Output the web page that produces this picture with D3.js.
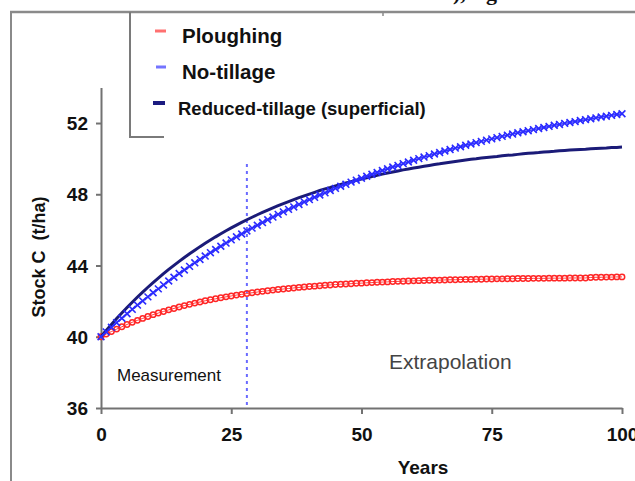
<!DOCTYPE html>
<html>
<head>
<meta charset="utf-8">
<script src="https://cdn.jsdelivr.net/npm/d3@7"></script>
<style>
  html, body { margin: 0; padding: 0; background: #fff; }
  svg { display: block; }
</style>
</head>
<body>
<svg id="chart" width="635" height="481"></svg>
<script>
// Simulated soil carbon stock (t/ha) for three tillage systems, years 0–100
const years = d3.range(0, 101);

const ploughing = [
  40.00, 40.15, 40.29, 40.43, 40.56, 40.69, 40.81, 40.92, 41.03, 41.14,
  41.24, 41.33, 41.42, 41.51, 41.59, 41.67, 41.75, 41.82, 41.89, 41.95,
  42.02, 42.08, 42.13, 42.19, 42.24, 42.29, 42.34, 42.38, 42.43, 42.47,
  42.51, 42.55, 42.58, 42.62, 42.65, 42.68, 42.71, 42.74, 42.77, 42.79,
  42.82, 42.84, 42.86, 42.89, 42.91, 42.93, 42.95, 42.96, 42.98, 43.00,
  43.01, 43.03, 43.04, 43.06, 43.07, 43.08, 43.10, 43.11, 43.12, 43.13,
  43.14, 43.15, 43.16, 43.17, 43.17, 43.18, 43.19, 43.20, 43.20, 43.21,
  43.22, 43.22, 43.23, 43.23, 43.24, 43.24, 43.25, 43.25, 43.26, 43.26,
  43.27, 43.27, 43.27, 43.28, 43.28, 43.28, 43.29, 43.29, 43.29, 43.29,
  43.30, 43.30, 43.30, 43.30, 43.33, 43.34, 43.34, 43.35, 43.35, 43.36,
  43.36
];

const noTillage = [
  40.00, 40.27, 40.53, 40.79, 41.04, 41.29, 41.54, 41.78, 42.01, 42.24,
  42.47, 42.69, 42.91, 43.13, 43.34, 43.55, 43.75, 43.95, 44.15, 44.34,
  44.53, 44.72, 44.90, 45.08, 45.26, 45.44, 45.61, 45.77, 45.94, 46.10,
  46.26, 46.41, 46.57, 46.72, 46.87, 47.01, 47.15, 47.29, 47.43, 47.57,
  47.70, 47.83, 47.96, 48.08, 48.21, 48.33, 48.45, 48.56, 48.68, 48.79,
  48.90, 49.01, 49.12, 49.22, 49.33, 49.43, 49.53, 49.62, 49.72, 49.81,
  49.91, 50.00, 50.09, 50.17, 50.26, 50.34, 50.43, 50.51, 50.59, 50.67,
  50.75, 50.82, 50.90, 50.97, 51.04, 51.11, 51.18, 51.25, 51.32, 51.38,
  51.45, 51.51, 51.57, 51.63, 51.69, 51.75, 51.81, 51.87, 51.92, 51.98,
  52.03, 52.08, 52.14, 52.19, 52.24, 52.29, 52.34, 52.38, 52.43, 52.48,
  52.52
];

const reducedTillage = [
  40.00, 40.35, 40.69, 41.02, 41.33, 41.64, 41.94, 42.23, 42.51, 42.78,
  43.04, 43.29, 43.54, 43.78, 44.01, 44.23, 44.45, 44.66, 44.86, 45.06,
  45.25, 45.43, 45.61, 45.78, 45.95, 46.11, 46.27, 46.42, 46.57, 46.71,
  46.85, 46.98, 47.11, 47.24, 47.36, 47.48, 47.59, 47.70, 47.81, 47.91,
  48.01, 48.11, 48.21, 48.30, 48.38, 48.47, 48.55, 48.63, 48.71, 48.79,
  48.86, 48.93, 49.00, 49.06, 49.13, 49.19, 49.25, 49.31, 49.37, 49.42,
  49.47, 49.52, 49.57, 49.62, 49.67, 49.71, 49.76, 49.80, 49.84, 49.88,
  49.92, 49.96, 49.99, 50.03, 50.06, 50.09, 50.12, 50.16, 50.19, 50.21,
  50.24, 50.27, 50.30, 50.32, 50.34, 50.37, 50.39, 50.41, 50.44, 50.46,
  50.48, 50.50, 50.52, 50.53, 50.55, 50.57, 50.59, 50.60, 50.62, 50.63,
  50.65
];

const seriesNames = ["Ploughing", "No-tillage", "Reduced-tillage (superficial)"];
const xTicks = [0, 25, 50, 75, 100];
const yTicks = [36, 40, 44, 48, 52];
const measurementEnd = 28;

const svg = d3.select("#chart");

const x = d3.scaleLinear().domain([0, 100]).range([101, 622]);
const y = d3.scaleLinear().domain([36, 54]).range([408, 87.4]);

const axisColor = "#727272";

// outer frame lines
svg.append("line").attr("x1", 10).attr("x2", 635).attr("y1", 12).attr("y2", 12)
  .attr("stroke", "#8a8a8a").attr("stroke-width", 2.5);
svg.append("line").attr("x1", 11).attr("x2", 11).attr("y1", 11).attr("y2", 481)
  .attr("stroke", "#8a8a8a").attr("stroke-width", 2);
svg.append("line").attr("x1", 383).attr("x2", 383).attr("y1", 12).attr("y2", 16)
  .attr("stroke", "#8a8a8a").attr("stroke-width", 1.5);

// heading fragment running off the top edge
svg.append("text").attr("x", 453).attr("y", 0)
  .attr("font-family", "'Liberation Serif', 'Times New Roman', serif")
  .attr("font-weight", "bold").attr("font-size", 22).attr("fill", "#111")
  .text("), Ag");

// axes
const yAxis = d3.axisLeft(y).tickValues(yTicks).tickSize(5).tickSizeOuter(0).tickPadding(8);
const xAxis = d3.axisBottom(x).tickValues(xTicks).tickSize(6).tickSizeOuter(0).tickPadding(14);

const gy = svg.append("g").attr("transform", "translate(101,0)").call(yAxis);
const gx = svg.append("g").attr("transform", "translate(0,408)").call(xAxis);

[gx, gy].forEach(g => {
  g.select(".domain").attr("stroke", axisColor).attr("stroke-width", 2);
  g.selectAll(".tick line").attr("stroke", axisColor).attr("stroke-width", 2);
  g.selectAll(".tick text")
    .attr("font-family", "'Liberation Sans', Arial, sans-serif")
    .attr("font-weight", "bold").attr("font-size", 19).attr("fill", "#111");
});
gy.selectAll(".tick text").attr("dy", "0.35em");
gx.selectAll(".tick text").attr("dy", "0.71em");

// axis titles
svg.append("text").attr("x", 423).attr("y", 474).attr("text-anchor", "middle")
  .attr("font-family", "'Liberation Sans', Arial, sans-serif")
  .attr("font-weight", "bold").attr("font-size", 19).attr("fill", "#111")
  .text("Years");
svg.append("text").attr("transform", "translate(45,257) rotate(-90)")
  .attr("text-anchor", "middle")
  .attr("font-family", "'Liberation Sans', Arial, sans-serif")
  .attr("font-weight", "bold").attr("font-size", 18).attr("fill", "#111")
  .attr("xml:space", "preserve")
  .text("Stock C  (t/ha)");

// boundary between measured period and extrapolation
svg.append("line")
  .attr("x1", x(measurementEnd)).attr("x2", x(measurementEnd))
  .attr("y1", 164).attr("y2", 408)
  .attr("stroke", "#6a6aff").attr("stroke-width", 2).attr("stroke-dasharray", "3,4");

svg.append("text").attr("x", 117).attr("y", 381)
  .attr("font-family", "'Liberation Sans', Arial, sans-serif")
  .attr("font-size", 17).attr("fill", "#111").text("Measurement");
svg.append("text").attr("x", 389).attr("y", 369)
  .attr("font-family", "'Liberation Sans', Arial, sans-serif")
  .attr("font-size", 21).attr("fill", "#444").text("Extrapolation");

const line = d3.line().x((d, i) => x(years[i])).y(d => y(d));

// Ploughing: open circles
svg.append("path").datum(ploughing).attr("d", line)
  .attr("fill", "none").attr("stroke", "#ff3a3a").attr("stroke-width", 1);
svg.append("g").selectAll("circle").data(ploughing).join("circle")
  .attr("cx", (d, i) => x(years[i])).attr("cy", d => y(d)).attr("r", 2.7)
  .attr("fill", "none").attr("stroke", "#ff2626").attr("stroke-width", 1.5);

// Reduced tillage: dark solid line
svg.append("path").datum(reducedTillage).attr("d", line)
  .attr("fill", "none").attr("stroke", "#1b1b78").attr("stroke-width", 3);

// No-tillage: line with x markers
svg.append("path").datum(noTillage).attr("d", line)
  .attr("fill", "none").attr("stroke", "#3535ff").attr("stroke-width", 1.5);
const crossPath = (cx, cy, s) => `M${cx - s},${cy - s}L${cx + s},${cy + s}M${cx - s},${cy + s}L${cx + s},${cy - s}`;
svg.append("g").selectAll("path").data(noTillage).join("path")
  .attr("d", (d, i) => crossPath(x(years[i]), y(d), 3.4))
  .attr("fill", "none").attr("stroke", "#2b2bff").attr("stroke-width", 1.6);

// legend box
svg.append("path").attr("d", "M130,12V137H164")
  .attr("fill", "none").attr("stroke", "#7a7a7a").attr("stroke-width", 2);

const legendItems = [
  { name: seriesNames[0], color: "#ff7070", mx: 155, mw: 11, mh: 3, ty: 43, size: 20.5 },
  { name: seriesNames[1], color: "#7474ff", mx: 156, mw: 10, mh: 3, ty: 79, size: 20.5 },
  { name: seriesNames[2], color: "#1b1b80", mx: 153, mw: 12, mh: 4, ty: 115, size: 18.5 }
];
const lg = svg.append("g").selectAll("g").data(legendItems).join("g");
lg.append("rect")
  .attr("x", d => d.mx).attr("y", d => d.ty - 12 - d.mh / 2)
  .attr("width", d => d.mw).attr("height", d => d.mh).attr("fill", d => d.color);
lg.append("text")
  .attr("x", (d, i) => i === 2 ? 178 : 182).attr("y", d => d.ty)
  .attr("font-family", "'Liberation Sans', Arial, sans-serif")
  .attr("font-weight", "bold").attr("font-size", d => d.size).attr("fill", "#111")
  .text(d => d.name);
</script>
</body>
</html>
